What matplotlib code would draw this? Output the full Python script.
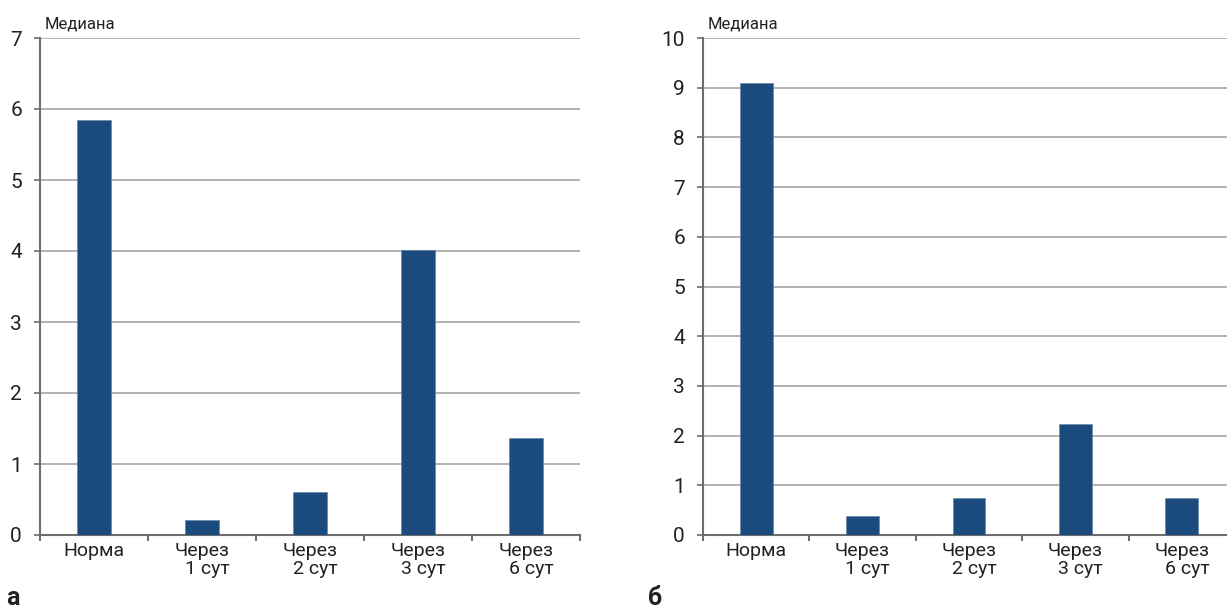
import matplotlib
matplotlib.use('Agg')
import numpy as np
from matplotlib import pyplot as plt

plt.rcParams['font.family'] = ['Roboto', 'DejaVu Sans']

categories = ['Норма', 'Через\n1 сут', 'Через\n2 сут', 'Через\n3 сут', 'Через\n6 сут']
values_a = [5.84, 0.21, 0.60, 4.01, 1.37]
values_b = [9.1, 0.38, 0.75, 2.23, 0.75]
ylim_a = 7
ylim_b = 10

bar_color = '#1b4b7c'
grid_color = '#a6a6a6'
axis_color = '#6e6e6e'

fig = plt.figure(figsize=(12.27, 6.10), dpi=100)
ax1 = fig.add_axes([40/1227, 75/610, 540/1227, 497/610])
ax2 = fig.add_axes([703/1227, 75/610, 532/1227, 497/610])

def draw(ax, vals, ymax):
    x = np.arange(len(categories))
    ax.bar(x, vals, width=0.31, color=bar_color, edgecolor='#5f7fa6', linewidth=0.4, zorder=3)
    ax.set_xlim(-0.5, len(categories) - 0.5)
    ax.set_ylim(0, ymax)
    ax.set_yticks(range(0, ymax + 1))
    ax.yaxis.grid(True, color=grid_color, linewidth=1.2, zorder=0)
    ax.set_axisbelow(True)
    # boundaries between categories carry the tick marks
    ax.set_xticks(np.arange(len(categories) + 1) - 0.5)
    ax.set_xticklabels([])
    ax.set_xticks(x, minor=True)
    ax.set_xticklabels(categories, minor=True, fontsize=14, multialignment='right',
                       linespacing=1.0, color='#222222')
    ax.tick_params(axis='x', which='minor', length=0, pad=5)
    ax.tick_params(axis='x', which='major', length=4, color=axis_color, width=1.5)
    ax.tick_params(axis='y', length=4, color=axis_color, width=1.2, labelsize=15, pad=9,
                   labelcolor='#222222')
    for s in ['top', 'right']:
        ax.spines[s].set_visible(False)
    for s in ['left', 'bottom']:
        ax.spines[s].set_color(axis_color)
        ax.spines[s].set_linewidth(1.5)
    ax.text(0.008, 1.014, 'Медиана', transform=ax.transAxes, fontsize=12, va='bottom',
            ha='left', color='#222222')

draw(ax1, values_a, ylim_a)
draw(ax2, values_b, ylim_b)

fig.text(6/1227, 1 - 598/610, 'а', fontsize=18, fontweight='bold', va='center', color='#222222')
fig.text(648/1227, 1 - 598/610, 'б', fontsize=18, fontweight='bold', va='center', color='#222222')

fig.savefig('out.png', dpi=100)
